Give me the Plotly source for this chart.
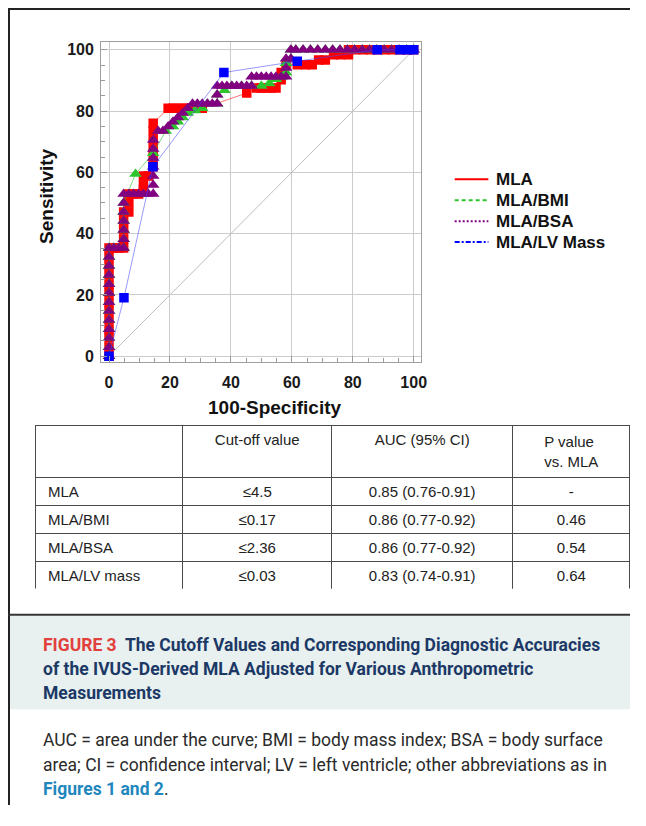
import plotly.graph_objects as go

# page is rendered with an 8px body margin; figure sized to fit inside the 646x826 window
W, H = 628, 800
OFF = 8

# ---------------- data ----------------
zero_col_y = [0, 2.9, 5.9, 8.8, 11.8, 14.7, 17.6, 20.6, 23.5, 26.5, 29.4, 32.4, 35.3]
top_row_x = [61.3, 63.7, 66.1, 68.5, 71.0, 73.4, 75.8, 78.2, 80.6, 83.1, 85.5,
             87.9, 90.3, 92.7, 95.2, 97.6, 100]

mla_x = [0] * 13 + [1.6, 3.2, 4.8, 4.8, 4.8, 4.8, 4.8, 6.5, 6.5, 6.5, 8.1, 9.7, 11.3, 11.3,
                    11.3, 12.9, 14.5, 14.5, 14.5, 14.5, 14.5, 14.5, 19.4, 21.0, 22.6, 24.2,
                    25.8, 27.4, 29.0, 30.6, 45.2, 48.4, 50.0, 51.6, 53.2, 54.8, 56.5, 56.5,
                    58.1, 61.8, 64.5, 66.7, 68.8, 71.0, 73.7, 76.0, 78.6, 78.6, 81.0, 83.4,
                    85.8, 88.2, 90.6, 93.0, 95.4, 97.8, 100]
mla_y = zero_col_y + [35.3, 35.3, 35.3, 38.2, 41.2, 44.1, 47.1, 47.1, 50.0, 52.9, 52.9, 52.9,
                      54.4, 55.9, 58.8, 58.8, 61.8, 64.7, 67.6, 70.6, 73.5, 76.0, 80.9, 80.9,
                      80.9, 80.9, 80.9, 80.9, 80.9, 80.9, 85.9, 87.5, 87.5, 87.5, 87.5, 87.5,
                      90.2, 92.6, 95.1, 95.1, 95.1, 95.1, 96.7, 96.7, 98.4, 98.4, 98.4, 100,
                      100, 100, 100, 100, 100, 100, 100, 100, 100]

bmi_x = [0] * 13 + [1.6, 3.2, 4.8, 4.8, 4.8, 4.8, 4.8, 4.8, 8.7, 14.5, 18.6, 21.0, 22.6, 24.2,
                    25.8, 28.2, 30.6, 32.3, 35.5, 35.5, 37.9, 40.3, 43.5, 46.8, 50.0, 52.6,
                    54.8, 56.5, 58.1, 58.1, 59.7, 59.7] + top_row_x
bmi_y = zero_col_y + [35.3, 35.3, 35.3, 38.2, 41.2, 44.1, 47.1, 50.0, 59.5, 66.2, 73.5, 75.0,
                      76.5, 77.9, 79.4, 80.2, 80.9, 82.4, 82.4, 85.3, 86.8, 88.2, 88.2, 88.2,
                      88.2, 89.0, 90.4, 91.2, 92.6, 95.6, 97.1, 100] + [100] * len(top_row_x)

bsa_x = [0] * 13 + [1.6, 3.2, 4.8, 4.8, 4.8, 4.8, 4.8, 4.8, 4.8, 6.5, 8.1, 9.7, 11.3, 12.9,
                    14.5, 14.5, 14.5, 14.5, 14.5, 14.5, 14.5, 16.1, 17.7, 19.4, 21.0, 22.6,
                    24.2, 25.8, 27.4, 29.0, 30.6, 32.3, 33.9, 35.5, 35.5, 35.5, 37.1, 38.7,
                    40.3, 41.9, 43.5, 45.2, 46.8, 46.8, 48.4, 50.0, 51.6, 53.2, 54.8, 56.5,
                    58.1, 58.1, 58.1, 59.7, 59.7] + top_row_x
bsa_y = zero_col_y + [35.3, 35.3, 35.3, 38.2, 41.2, 44.1, 47.1, 50.0, 52.9, 52.9, 52.9, 52.9,
                      52.9, 52.9, 52.9, 55.9, 58.8, 61.8, 64.7, 67.6, 70.6, 73.5, 73.5, 75.0,
                      76.5, 77.9, 79.4, 80.9, 82.4, 82.4, 82.4, 82.4, 82.4, 82.4, 85.3, 88.2,
                      88.2, 88.2, 88.2, 88.2, 88.2, 88.2, 88.2, 91.2, 91.2, 91.2, 91.2, 91.2,
                      91.2, 91.2, 91.2, 94.1, 97.1, 97.1, 100] + [100] * len(top_row_x)

lvm_x = [0, 4.9, 14.4, 37.7, 61.8, 88.0, 95.5, 98.0, 100]
lvm_y = [0, 19.1, 61.8, 92.6, 96.3, 100, 100, 100, 100]

diag_x = [0, 100]
diag_y = [0, 100]

series_names = ["MLA", "MLA/BMI", "MLA/BSA", "MLA/LV Mass"]
axis_ticks = [0, 20, 40, 60, 80, 100]

table_header = ["", "Cut-off value", "AUC (95% CI)", "P value<br>vs. MLA"]
table_rows = ["MLA", "MLA/BMI", "MLA/BSA", "MLA/LV mass"]
table_cutoff = ["≤4.5", "≤0.17", "≤2.36", "≤0.03"]
table_auc = ["0.85 (0.76-0.91)", "0.86 (0.77-0.92)", "0.86 (0.77-0.92)", "0.83 (0.74-0.91)"]
table_p = ["-", "0.46", "0.54", "0.64"]

caption_title = ["The Cutoff Values and Corresponding Diagnostic Accuracies",
                 "of the IVUS-Derived MLA Adjusted for Various Anthropometric",
                 "Measurements"]
caption_body = ["AUC = area under the curve; BMI = body mass index; BSA = body surface",
                "area; CI = confidence interval; LV = left ventricle; other abbreviations as in"]


# ---------------- helpers: page pixel -> paper fraction ----------------
def fx(p):
    return (p - OFF) / W


def fy(p):
    return 1 - (p - OFF) / H


ARIAL = "Liberation Sans, Arial, sans-serif"
CAPF = "Roboto, Liberation Sans, sans-serif"

fig = go.Figure()

fig.add_trace(go.Scatter(x=diag_x, y=diag_y, mode="lines",
                         line=dict(color="#bdbdbd", width=1),
                         showlegend=False, hoverinfo="skip"))

styles = [
    (mla_x, mla_y, "#ff0000", "square", "solid", "rgba(255,0,0,0.55)", 9.5),
    (bmi_x, bmi_y, "#2ec42e", "triangle-up", "4px,3px", "rgba(46,196,46,0.6)", 11),
    (bsa_x, bsa_y, "#800080", "triangle-up", "2px,2px", "rgba(128,0,128,0.5)", 11),
    (lvm_x, lvm_y, "#0000ff", "square", "5px,2px,2px,2px", "rgba(70,70,255,0.55)", 9.5),
]

for name, (xs, ys, col, sym, dash, lcol, msize) in zip(series_names, styles):
    fig.add_trace(go.Scatter(x=xs, y=ys, mode="lines+markers", name=name,
                             line=dict(color=lcol, width=1),
                             marker=dict(symbol=sym, size=msize, color=col, line=dict(width=0)),
                             showlegend=False))

# legend (line samples + bold labels)
legend_rows = [180, 201, 222, 243]
for name, (xs, ys, col, sym, dash, lcol, msize), ry in zip(series_names, styles, legend_rows):
    fig.add_shape(type="line", xref="paper", yref="paper", x0=fx(459), x1=fx(493),
                  y0=fy(ry), y1=fy(ry), line=dict(color=col, width=2, dash=dash))
    fig.add_annotation(text=name, x=fx(499), y=fy(ry), xref="paper", yref="paper",
                       showarrow=False, xanchor="left", yanchor="middle",
                       font=dict(family=ARIAL, size=17, color="#111", weight="bold"))

axis_common = dict(
    tickvals=axis_ticks, ticks="inside", ticklen=6, tickcolor="#9a9a9a",
    showline=True, linecolor="#a0a0a0", linewidth=1, mirror=True,
    showgrid=True, gridcolor="#cccccc", gridwidth=1, zeroline=False,
    tickfont=dict(family=ARIAL, size=16, color="#1a1a1a", weight="bold"),
    minor=dict(dtick=5, ticks="inside", ticklen=4, tickcolor="#9a9a9a", showgrid=False),
    fixedrange=True,
)

fig.update_layout(
    width=W, height=H,
    margin=dict(l=0, r=0, t=0, b=0),
    paper_bgcolor="white", plot_bgcolor="white",
    xaxis=dict(domain=[fx(102), fx(425)], range=[-2.6, 102.4], ticklabelstandoff=6, **axis_common),
    yaxis=dict(domain=[fy(363), fy(42)], range=[-1.8, 102.6], ticklabelstandoff=3, **axis_common),
    showlegend=False,
)

# axis titles
fig.add_annotation(text="Sensitivity", x=fx(47), y=fy(197), xref="paper", yref="paper",
                   textangle=-90, showarrow=False, xanchor="center", yanchor="middle",
                   font=dict(family=ARIAL, size=19, color="#111", weight="bold"))
fig.add_annotation(text="100-Specificity", x=fx(277), y=fy(409), xref="paper", yref="paper",
                   showarrow=False, xanchor="center", yanchor="middle",
                   font=dict(family=ARIAL, size=19, color="#111", weight="bold"))

# table
fig.add_trace(go.Table(
    domain=dict(x=[fx(36), fx(636)], y=[fy(591), fy(427)]),
    columnwidth=[147, 149, 181, 117],
    header=dict(values=table_header, height=51, align="center",
                line=dict(color="#4a4a4a", width=1), fill=dict(color="white"),
                font=dict(family=ARIAL, size=15, color="#222")),
    cells=dict(values=[[" " + r for r in table_rows], table_cutoff, table_auc, table_p], height=28,
               align=["left", "center", "center", "center"],
               line=dict(color="#4a4a4a", width=1), fill=dict(color="white"),
               font=dict(family=ARIAL, size=15, color="#222")),
))

# frame and caption panel
fig.add_shape(type="rect", xref="paper", yref="paper", x0=fx(8), x1=1, y0=fy(712), y1=fy(618),
              fillcolor="#e8f0f0", line=dict(width=0), layer="below")
fig.add_shape(type="line", xref="paper", yref="paper", x0=fx(9), x1=fx(9), y0=0, y1=fy(8),
              line=dict(color="#222", width=2))
fig.add_shape(type="line", xref="paper", yref="paper", x0=fx(8), x1=1, y0=fy(9), y1=fy(9),
              line=dict(color="#222", width=2))
fig.add_shape(type="line", xref="paper", yref="paper", x0=fx(8), x1=1, y0=fy(617), y1=fy(617),
              line=dict(color="#333", width=2))

title_lines = ["<span style='color:#e2403c'>FIGURE 3</span>  " + caption_title[0],
               caption_title[1], caption_title[2]]
for i, t in enumerate(title_lines):
    fig.add_annotation(text="<b>" + t + "</b>", x=fx(41), y=fy(647 + 24.5 * i),
                       xref="paper", yref="paper", showarrow=False,
                       xanchor="left", yanchor="middle",
                       font=dict(family=CAPF, size=17.5, color="#1c3966"))

body_lines = caption_body + ["<b><span style='color:#1f87bd'>Figures 1 and 2</span></b>."]
for i, t in enumerate(body_lines):
    fig.add_annotation(text=t, x=fx(41), y=fy(743 + 24.5 * i),
                       xref="paper", yref="paper", showarrow=False,
                       xanchor="left", yanchor="middle",
                       font=dict(family=CAPF, size=17.5, color="#2a2a2a"))

fig.write_html("out.html", config={"displayModeBar": False})
